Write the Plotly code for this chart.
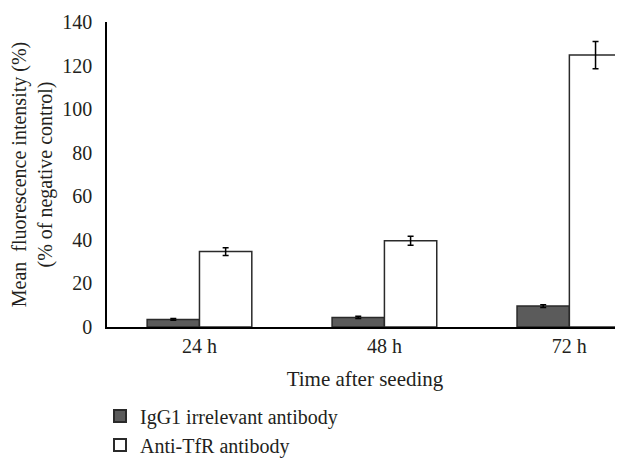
import plotly.graph_objects as go

categories = ["24 h", "48 h", "72 h"]
igg1_values = [3.5, 4.4, 9.6]
igg1_errors = [0.4, 0.5, 0.6]
tfr_values = [34.6, 39.6, 124.8]
tfr_errors = [1.8, 2.1, 6.3]
y_ticks = [0, 20, 40, 60, 80, 100, 120, 140]

font_family = "Liberation Serif, Times New Roman, serif"

fig = go.Figure()
fig.add_trace(go.Bar(
    x=categories, y=igg1_values, name="IgG1 irrelevant antibody",
    marker=dict(color="#5b5b5b", line=dict(color="#2a2a2a", width=1.5)),
    error_y=dict(type="data", array=igg1_errors, color="black", thickness=1.5, width=3),
    cliponaxis=False,
))
fig.add_trace(go.Bar(
    x=categories, y=tfr_values, name="Anti-TfR antibody",
    marker=dict(color="white", line=dict(color="#2a2a2a", width=1.5)),
    error_y=dict(type="data", array=tfr_errors, color="black", thickness=1.5, width=3),
    cliponaxis=False,
))

# page has an 8px body margin, so the figure is sized/offset to compensate
fig.update_layout(
    width=615, height=450,
    margin=dict(l=99, r=0, t=14, b=131, autoexpand=False),
    paper_bgcolor="white", plot_bgcolor="white",
    barmode="group", bargap=0.434, bargroupgap=0,
    font=dict(family=font_family, size=20, color="#231f20"),
    showlegend=True,
    legend=dict(x=-0.0136, y=-0.228, xanchor="left", yanchor="top",
                orientation="v", font=dict(size=20), tracegroupgap=0,
                itemsizing="constant"),
    xaxis=dict(
        range=[-0.5, 2.29], showline=True, linecolor="black", linewidth=1.5,
        ticks="", showgrid=False, zeroline=False, automargin=False,
        title=dict(text="Time after seeding", font=dict(size=21), standoff=16),
        tickfont=dict(size=20),
    ),
    yaxis=dict(
        range=[0, 140], tickvals=y_ticks, showline=True, linecolor="black",
        linewidth=1.5, ticks="", showgrid=False, zeroline=False, automargin=False,
        tickfont=dict(size=20), ticklabelstandoff=9,
        title=dict(text="Mean  fluorescence intensity (%)<br>(% of negative control)",
                   font=dict(size=20), standoff=10),
    ),
)

fig.write_html("out.html")
